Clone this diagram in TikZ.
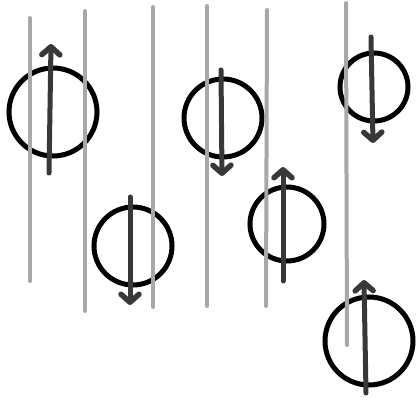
\documentclass[tikz,border=0pt]{standalone}
\usetikzlibrary{arrows.meta}
\definecolor{guide}{HTML}{A8A8A8}
\definecolor{spin}{HTML}{383838}
\tikzset{
  ring/.style={circle, draw=black, line width=5pt, inner sep=0pt, minimum size=#1},
  guideline/.style={draw=guide, line width=4pt, line cap=round},
  spinarrow/.style={draw=spin, line width=5pt, line cap=round, -{Straight Barb[round, length=8pt, width=18pt, line width=5.5pt]}}
}
\begin{document}
\begin{tikzpicture}[x=1pt, y=-1pt]
\useasboundingbox (0,0) rectangle (416,401);
% circles
\node[ring=88pt] (A) at (53,112) {};
\node[ring=78pt] (B) at (223,118) {};
\node[ring=68pt] (C) at (374,87) {};
\node[ring=78pt] (D) at (133,246) {};
\node[ring=74pt] (E) at (287,224) {};
\node[ring=88pt] (F) at (369,341) {};
% arrow end points
\coordinate (a1) at (49,173); \coordinate (a2) at (51,44);
\coordinate (b1) at (221,70); \coordinate (b2) at (222,176);
\coordinate (c1) at (371,37); \coordinate (c2) at (373,143);
\coordinate (d1) at (130,197); \coordinate (d2) at (130,305);
\coordinate (e1) at (283,281); \coordinate (e2) at (283,167);
\coordinate (f1) at (366,393); \coordinate (f2) at (364,280);
\draw[spinarrow] (a1) -- (a2);
\draw[spinarrow] (b1) -- (b2);
\draw[spinarrow] (c1) -- (c2);
\draw[spinarrow] (d1) -- (d2);
\draw[spinarrow] (e1) -- (e2);
\draw[spinarrow] (f1) -- (f2);
% guide lines
\coordinate (g1t) at (30,18); \coordinate (g1b) at (30,281);
\coordinate (g2t) at (85,11); \coordinate (g2b) at (85,311);
\coordinate (g3t) at (153,7); \coordinate (g3b) at (153,307);
\coordinate (g4t) at (207,6); \coordinate (g4b) at (207,306);
\coordinate (g5t) at (267,10); \coordinate (g5b) at (266,306);
\coordinate (g6t) at (346,3); \coordinate (g6b) at (347,345);
\draw[guideline] (g1t) -- (g1b);
\draw[guideline] (g2t) -- (g2b);
\draw[guideline] (g3t) -- (g3b);
\draw[guideline] (g4t) -- (g4b);
\draw[guideline] (g5t) -- (g5b);
\draw[guideline] (g6t) -- (g6b);
\end{tikzpicture}
\end{document}
